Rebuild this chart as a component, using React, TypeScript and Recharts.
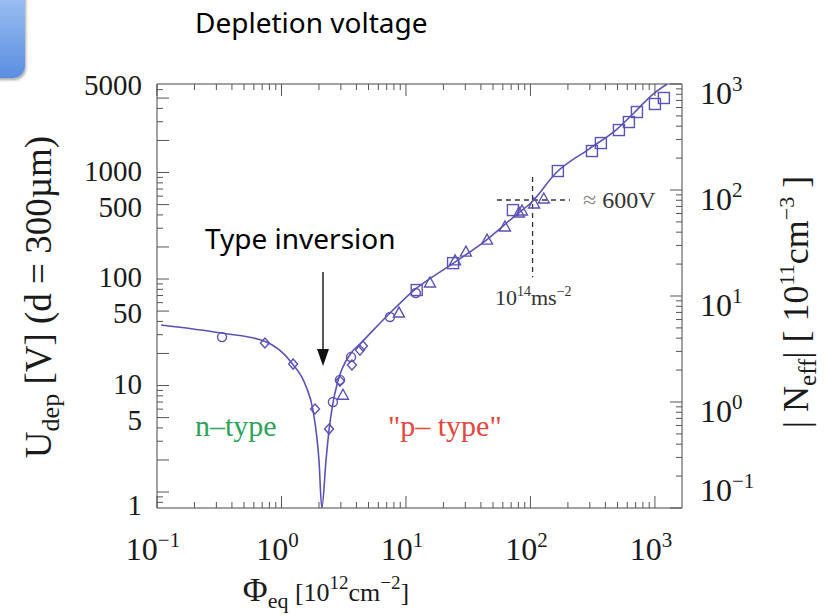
import { ComposedChart, Line, Scatter, XAxis, YAxis } from "recharts";

// fit curve (x in 1e12 cm^-2, y in V)
const curveX = [0.108, 0.327, 0.722, 1.21, 1.57, 1.79, 2.0, 2.11, 2.28, 2.41, 2.59, 2.84, 3.62, 4.35, 7.17, 11.4, 23.4, 42.4, 76.5, 101, 163, 295, 486, 678, 946, 1250];
const curveY = [37.0, 31.1, 26.2, 16.3, 9.9, 5.89, 2.0, 0.708, 2.0, 3.82, 6.85, 11.0, 20.2, 25.1, 45.9, 77.1, 138, 223, 399, 520, 1011, 1662, 2506, 3622, 5343, 6780];

const circleX = [0.333, 2.59, 2.95, 3.62, 7.44, 12.0];
const circleY = [28.5, 7.0, 11.3, 18.5, 44.0, 73.9];
const diamondX = [0.736, 1.24, 1.86, 2.41, 2.95, 3.68, 4.27, 4.51];
const diamondY = [25.1, 15.9, 6.02, 3.9, 11.0, 15.6, 21.5, 23.5];
const triangleX = [3.12, 8.79, 15.6, 24.8, 30.3, 44.8, 62.4, 80.9, 85.5, 107, 128];
const triangleY = [8.1, 47.9, 91.7, 148, 179, 232, 308, 417, 435, 506, 564];
const squareX = [12.2, 23.9, 72.3, 166, 312, 368, 514, 618, 717, 1000, 1180];
const squareY = [78.8, 141, 444, 1033, 1592, 1892, 2506, 2979, 3700, 4400, 5010];

// dashed guide at 1e14 / ~600 V
const hGuideX = [53.8, 208];
const hGuideY = [552, 552];
const vGuideX = [104, 104];
const vGuideY = [907, 104];

const xMajor = [0.1, 1, 10, 100, 1000];
const xExp = ["\u22121", "0", "1", "2", "3"];
const xMinor = [0.2, 0.3, 0.4, 0.5, 0.6, 0.7, 0.8, 0.9, 2, 3, 4, 5, 6, 7, 8, 9, 20, 30, 40, 50, 60, 70, 80, 90, 200, 300, 400, 500, 600, 700, 800, 900];

const yLabels = [1, 5, 10, 50, 100, 500, 1000, 5000];
const yMid = [2, 20, 200, 2000];
const yMinor = [0.8, 0.9, 3, 4, 6, 7, 8, 9, 30, 40, 60, 70, 80, 90, 300, 400, 600, 700, 800, 900, 3000, 4000, 6000];

const rMajor = [0.1, 1, 10, 100, 1000];
const rExp = ["\u22121", "0", "1", "2", "3"];
const rMinor = [0.2, 0.3, 0.4, 0.5, 0.6, 0.7, 0.8, 0.9, 2, 3, 4, 5, 6, 7, 8, 9, 20, 30, 40, 50, 60, 70, 80, 90, 200, 300, 400, 500, 600, 700, 800, 900];

const zip = (xs: number[], ys: number[]) => xs.map((x, i) => ({ x, y: ys[i] }));

const curve = zip(curveX, curveY);
const circles = zip(circleX, circleY);
const diamonds = zip(diamondX, diamondY);
const triangles = zip(triangleX, triangleY);
const squares = zip(squareX, squareY);
const hGuide = zip(hGuideX, hGuideY);
const vGuide = zip(vGuideX, vGuideY);

const BLUE = "#5a52b6";
const TICK = "#555";
const SERIF = "'Liberation Serif', 'DejaVu Serif', serif";
const SANS = "'Noto Sans', 'Open Sans', sans-serif";

const CircleMark = (p: any) => <circle cx={p.cx} cy={p.cy} r={4.5} fill="none" stroke={BLUE} strokeWidth={1.4} />;
const DiamondMark = (p: any) => (
  <polygon points={`${p.cx},${p.cy - 5} ${p.cx + 4.5},${p.cy} ${p.cx},${p.cy + 5} ${p.cx - 4.5},${p.cy}`} fill="none" stroke={BLUE} strokeWidth={1.4} />
);
const TriangleMark = (p: any) => (
  <polygon points={`${p.cx},${p.cy - 6} ${p.cx + 5.5},${p.cy + 4} ${p.cx - 5.5},${p.cy + 4}`} fill="none" stroke={BLUE} strokeWidth={1.4} />
);
const SquareMark = (p: any) => <rect x={p.cx - 5.5} y={p.cy - 5.5} width={11} height={11} fill="none" stroke={BLUE} strokeWidth={1.4} />;

const BottomTick = (p: any) => {
  const v = p.payload.value;
  const mi = xMajor.indexOf(v);
  return (
    <g>
      <line x1={p.x} y1={p.y} x2={p.x} y2={p.y - (mi >= 0 ? 12 : 6)} stroke={TICK} strokeWidth={1} />
      {mi >= 0 && (
        <text x={p.x - 4} y={p.y + 52} textAnchor="middle" fontFamily={SERIF} fontSize={32} fill="#1a1a1a">
          10<tspan dy={-13} fontSize={21}>{xExp[mi]}</tspan>
        </text>
      )}
    </g>
  );
};

const TopTick = (p: any) => {
  const v = p.payload.value;
  const major = xMajor.includes(v);
  return <line x1={p.x} y1={p.y} x2={p.x} y2={p.y + (major ? 12 : 6)} stroke={TICK} strokeWidth={1} />;
};

const LeftTick = (p: any) => {
  const v = p.payload.value;
  const labelled = yLabels.includes(v);
  const long = labelled || yMid.includes(v);
  const lead = String(v)[0];
  const shift = v === 5000 ? -13 : v === 1 ? 13 : lead === "5" ? 2 : -2;
  return (
    <g>
      <line x1={p.x} y1={p.y} x2={p.x + (long ? 12 : 6)} y2={p.y} stroke={TICK} strokeWidth={1} />
      {labelled && (
        <text x={p.x - 15} y={p.y + 10 + shift} textAnchor="end" fontFamily={SERIF} fontSize={29} fill="#1a1a1a">
          {v}
        </text>
      )}
    </g>
  );
};

const RightTick = (p: any) => {
  const v = p.payload.value;
  const mi = rMajor.indexOf(v);
  const shift = v === 0.1 ? -18 : 9;
  return (
    <g>
      <line x1={p.x} y1={p.y} x2={p.x - (mi >= 0 ? 12 : 6)} y2={p.y} stroke={TICK} strokeWidth={1} />
      {mi >= 0 && (
        <text x={p.x + 18} y={p.y + 11 + shift} textAnchor="start" fontFamily={SERIF} fontSize={32} fill="#1a1a1a">
          10<tspan dy={-13} fontSize={21}>{rExp[mi]}</tspan>
        </text>
      )}
    </g>
  );
};

export default function App() {
  return (
    <div style={{ position: "absolute", left: 0, top: 0, width: 825, height: 616, background: "#fff", overflow: "hidden" }}>
      <div
        style={{
          position: "absolute",
          left: -20,
          top: -20,
          width: 45,
          height: 98,
          borderRadius: 12,
          background: "linear-gradient(to bottom, #a9c9f6, #5a8ee0)",
          boxShadow: "1px 2px 3px rgba(0,0,0,0.35)",
        }}
      />
      <ComposedChart width={825} height={616} margin={{ top: 64, right: 63, bottom: 48, left: 77 }}>
        <XAxis
          xAxisId={0}
          dataKey="x"
          type="number"
          scale="log"
          domain={[0.1, 1650]}
          allowDataOverflow
          ticks={[...xMajor, ...xMinor]}
          interval={0}
          tickSize={0}
          tickMargin={0}
          tickLine={false}
          height={60}
          stroke="#444"
          tick={(p: any) => <BottomTick {...p} />}
        />
        <XAxis
          xAxisId="top"
          orientation="top"
          dataKey="x"
          type="number"
          scale="log"
          domain={[0.1, 1650]}
          allowDataOverflow
          ticks={[...xMajor, ...xMinor]}
          interval={0}
          tickSize={0}
          tickMargin={0}
          tickLine={false}
          height={20}
          stroke="#444"
          tick={(p: any) => <TopTick {...p} />}
        />
        <YAxis
          yAxisId={0}
          dataKey="y"
          type="number"
          scale="log"
          domain={[0.708, 6780]}
          allowDataOverflow
          ticks={[...yLabels, ...yMid, ...yMinor]}
          interval={0}
          tickSize={0}
          tickMargin={0}
          tickLine={false}
          width={80}
          stroke="#444"
          tick={(p: any) => <LeftTick {...p} />}
        />
        <YAxis
          yAxisId="right"
          orientation="right"
          type="number"
          scale="log"
          domain={[0.1, 1000]}
          allowDataOverflow
          ticks={[...rMajor, ...rMinor]}
          interval={0}
          tickSize={0}
          tickMargin={0}
          tickLine={false}
          width={80}
          stroke="#444"
          tick={(p: any) => <RightTick {...p} />}
        />
        <Line data={hGuide} dataKey="y" type="linear" stroke="#333" strokeWidth={1.3} strokeDasharray="5 4" dot={false} isAnimationActive={false} />
        <Line data={vGuide} dataKey="y" type="linear" stroke="#333" strokeWidth={1.3} strokeDasharray="5 4" dot={false} isAnimationActive={false} />
        <Line data={curve} dataKey="y" type="monotone" stroke={BLUE} strokeWidth={1.6} dot={false} isAnimationActive={false} />
        <Scatter data={circles} dataKey="y" shape={CircleMark} isAnimationActive={false} />
        <Scatter data={diamonds} dataKey="y" shape={DiamondMark} isAnimationActive={false} />
        <Scatter data={triangles} dataKey="y" shape={TriangleMark} isAnimationActive={false} />
        <Scatter data={squares} dataKey="y" shape={SquareMark} isAnimationActive={false} />
      </ComposedChart>
      <svg width={825} height={616} style={{ position: "absolute", left: 0, top: 0, pointerEvents: "none" }}>
        <text x={195} y={33} fontFamily={SANS} fontSize={28} fill="#000">Depletion voltage</text>
        <text x={205} y={249} fontFamily={SANS} fontSize={28} fill="#000">Type inversion</text>
        <line x1={323} y1={272} x2={323} y2={352} stroke="#222" strokeWidth={1.5} />
        <polygon points="317,349 329,349 323,366" fill="#111" />
        <text x={195} y={436} fontFamily={SERIF} fontSize={30} fill="#2ea35a">n–type</text>
        <text x={388} y={436} fontFamily={SERIF} fontSize={30} fill="#e5473c">"p– type"</text>
        <text x={583} y={208} fontFamily={SERIF} fontSize={24} fill="#333">
          <tspan fill="#888">≈</tspan> 600V
        </text>
        <text x={495} y={305} fontFamily={SERIF} fontSize={22} fill="#333">
          10<tspan dy={-9} fontSize={14}>14</tspan>
          <tspan dy={9}>ms</tspan>
          <tspan dy={-9} fontSize={14}>−2</tspan>
        </text>
        <text transform="translate(51,297) rotate(-90)" textAnchor="middle" fontFamily={SERIF} fontSize={37} fill="#1a1a1a">
          U<tspan dy={8} fontSize={26}>dep</tspan>
          <tspan dy={-8}> [V] (d = 300µm)</tspan>
        </text>
        <text transform="translate(808,302) rotate(-90)" textAnchor="middle" fontFamily={SERIF} fontSize={36} fill="#1a1a1a">
          | N<tspan dy={8} fontSize={25}>eff</tspan>
          <tspan dy={-8}>|  [ 10</tspan>
          <tspan dy={-14} fontSize={22}>11</tspan>
          <tspan dy={14}>cm</tspan>
          <tspan dy={-14} fontSize={22}>−3</tspan>
          <tspan dy={14}> ]</tspan>
        </text>
        <text x={326} y={601} textAnchor="middle" fontFamily={SERIF} fontSize={34} fill="#1a1a1a">
          Φ<tspan dy={7} fontSize={22}>eq</tspan>
          <tspan dy={-7} fontSize={26}> [10</tspan>
          <tspan dy={-12} fontSize={19}>12</tspan>
          <tspan dy={12} fontSize={26}>cm</tspan>
          <tspan dy={-12} fontSize={19}>−2</tspan>
          <tspan dy={12} fontSize={26}>]</tspan>
        </text>
      </svg>
    </div>
  );
}
